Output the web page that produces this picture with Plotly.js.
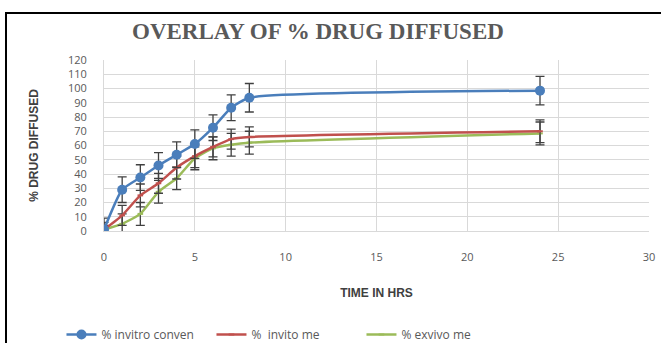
<!DOCTYPE html>
<html>
<head>
<meta charset="utf-8">
<script src="https://cdn.plot.ly/plotly-3.0.1.min.js"></script>
<style>
html,body{margin:0;padding:0;background:#fff;overflow:hidden;}
#frame{position:absolute;left:5px;top:12px;width:700px;height:400px;border-left:2px solid #000;border-top:2px solid #000;}
#chart{position:absolute;left:0;top:0;width:661px;height:343px;}
</style>
</head>
<body>
<div id="frame"></div>
<div id="chart"></div>
<script>
const timeHrs = [0, 1, 2, 3, 4, 5, 6, 7, 8, 24];
const invitroConven = [1, 29, 37.5, 46, 53.5, 61, 72.5, 86.5, 93.5, 98.5];
const invitoMe = [1, 11, 25, 33.5, 44.5, 52.5, 59, 64.5, 66, 70];
const exvivoMe = [1, 5, 12, 27.5, 37, 51, 58, 60.5, 62, 68.5];
const errConven = [8, 9, 9, 9, 9, 10, 9, 9, 10, 10];
const errInvito = [5, 7, 8, 7, 8, 8, 7, 7, 7, 8];
const errExvivo = [3, 7, 8, 8, 8, 8, 8, 8, 8, 8];
const seriesNames = ['% invitro conven', '%  invito me', '% exvivo me'];

const errStyle = (arr) => ({type:'data', array:arr, visible:true, color:'#404040', thickness:1.3, width:4.5});

const traces = [
  {x:timeHrs, y:exvivoMe, name:seriesNames[2], mode:'lines+markers', line:{color:'#9bbb59', width:2.5, shape:'spline', smoothing:0.5},
   marker:{color:'#9bbb59', size:4, symbol:'line-ew', line:{color:'#9bbb59', width:2}}, error_y:errStyle(errExvivo), legendrank:3},
  {x:timeHrs, y:invitoMe, name:seriesNames[1], mode:'lines+markers', line:{color:'#c0504d', width:2.5, shape:'spline', smoothing:0.5},
   marker:{color:'#c0504d', size:4, symbol:'line-ew', line:{color:'#c0504d', width:2}}, error_y:errStyle(errInvito), legendrank:2},
  {x:timeHrs, y:invitroConven, name:seriesNames[0], mode:'lines+markers', line:{color:'#4a7ebb', width:2.5, shape:'spline', smoothing:0.5},
   marker:{color:'#4a7ebb', size:10}, error_y:errStyle(errConven), legendrank:1}
];

const tickFont = {family:'Open Sans, Liberation Sans, sans-serif', size:11, color:'#595959'};

const layout = {
  width:661, height:343,
  margin:{l:104, r:12, t:60, b:112, autoexpand:false},
  paper_bgcolor:'rgba(0,0,0,0)', plot_bgcolor:'#fff',
  showlegend:true,
  title:{text:'OVERLAY OF % DRUG DIFFUSED', font:{family:'Liberation Serif, Times New Roman, serif', size:23, color:'#595959', weight:'bold'},
         x:0.481, xanchor:'center', xref:'container', y:0.91, yanchor:'middle', yref:'container'},
  xaxis:{range:[0,30], dtick:5, tick0:0, showgrid:true, gridcolor:'#d9d9d9', gridwidth:1, zeroline:false,
         showline:true, linecolor:'#d9d9d9', ticks:'', ticklen:0, ticklabelstandoff:16,
         tickfont:tickFont,
         title:{text:'<b>TIME IN HRS</b>', font:{family:'Liberation Sans, Arial, sans-serif', size:12, color:'#404040'}, standoff:25}},
  yaxis:{range:[0,120], dtick:10, tick0:0, showgrid:true, gridcolor:'#d9d9d9', gridwidth:1, zeroline:false,
         showline:true, linecolor:'#d9d9d9', ticks:'', ticklen:0, ticklabelstandoff:14,
         tickfont:tickFont,
         title:{text:'<b>% DRUG DIFFUSED</b>', font:{family:'Liberation Sans, Arial, sans-serif', size:12, color:'#404040'}, standoff:26}},
  legend:{orientation:'h', x:0.093, xanchor:'left', xref:'container', y:0.025, yanchor:'middle', yref:'container', traceorder:'normal',
          entrywidth:105, entrywidthmode:'pixels',
          font:{family:'Open Sans, Liberation Sans, sans-serif', size:12, color:'#595959'}, bgcolor:'rgba(0,0,0,0)', itemwidth:30}
};

Plotly.newPlot('chart', traces, layout, {displayModeBar:false, staticPlot:true});
</script>
</body>
</html>
